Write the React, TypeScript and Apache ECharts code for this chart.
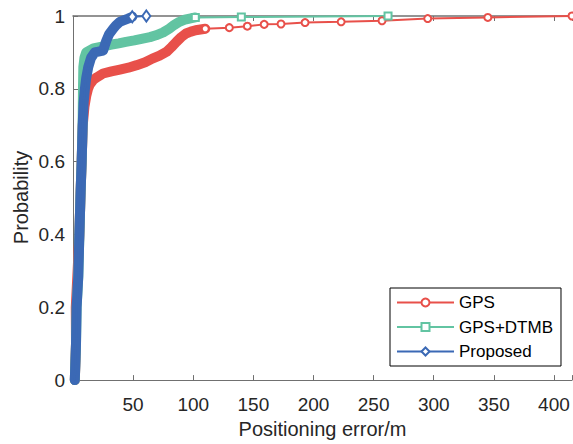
import React, { useEffect, useRef } from "react";
import * as echarts from "echarts";

// Dense part of each CDF (drawn as a thick band of overlapping markers in the source)
const gpsDense: number[][] = [
  [1.5, 0], [2.5, 0.1], [2.3, 0.2], [3.6, 0.285], [5.3, 0.4], [6.3, 0.514], [7.2, 0.6], [8.1, 0.7], [9.5, 0.75], [11, 0.78],
  [12.5, 0.8], [14, 0.812], [17, 0.825], [20, 0.832], [25, 0.842], [32, 0.848], [39, 0.853],
  [46, 0.858], [53, 0.865], [60, 0.873], [66, 0.883], [72, 0.891], [78, 0.902],
  [82, 0.915], [86, 0.929], [90, 0.942], [94, 0.952], [98, 0.957], [102, 0.961],
  [106, 0.963], [110, 0.965],
];
const gpsTail: number[][] = [
  [130, 0.968], [145, 0.972], [159, 0.977], [173, 0.978], [193, 0.982],
  [223, 0.984], [257, 0.987], [295, 0.993], [345, 0.996], [415, 1],
];

const dtmbDense: number[][] = [
  [1.5, 0], [2.5, 0.1], [3, 0.2], [4.4, 0.285], [5.3, 0.4], [6.3, 0.514], [7.2, 0.6], [8, 0.7], [8.3, 0.8], [8.6, 0.86], [9.5, 0.885],
  [11, 0.9], [17, 0.911], [24, 0.916], [31, 0.921], [38, 0.925], [44, 0.929],
  [51, 0.933], [58, 0.938], [64, 0.942], [69, 0.947], [75, 0.955], [80, 0.965],
  [84, 0.975], [88.5, 0.984], [93, 0.99], [97, 0.993], [101.7, 0.996],
];
const dtmbTail: number[][] = [[140, 0.997], [262, 1]];

const proposedDense: number[][] = [
  [1.5, 0], [2.5, 0.1], [3, 0.2], [4.4, 0.285], [5.3, 0.4], [6.3, 0.514],
  [7.2, 0.6], [8, 0.696], [8.8, 0.76], [9.9, 0.8], [11, 0.83], [12.7, 0.86],
  [15, 0.885], [18, 0.9], [21, 0.902], [25, 0.905], [27.8, 0.933], [30, 0.95],
  [33.4, 0.965], [36, 0.975], [38.9, 0.984], [42, 0.988], [45.8, 0.993], [49.3, 0.998],
];
const proposedTail: number[][] = [[61, 1]];

const seriesNames = ["GPS", "GPS+DTMB", "Proposed"];
const xTicks = [50, 100, 150, 200, 250, 300, 350, 400];
const yTicks = [0, 0.2, 0.4, 0.6, 0.8, 1];

const COLORS = ["#E8504A", "#62C4A2", "#3B69B5"];
const SYMBOLS = ["emptyCircle", "emptyRect", "emptyDiamond"];
const SYMBOL_SIZES: any[] = [7, 7, [8, 11]];
const FONT = "'Liberation Sans', Arial, Helvetica, sans-serif";

function buildSeries(name: string, idx: number, dense: number[][], tail: number[][]) {
  const color = COLORS[idx];
  const band = {
    type: "line",
    name: name + "-band",
    data: dense,
    showSymbol: false,
    symbol: "none",
    clip: false,
    silent: true,
    lineStyle: { color, width: 10, cap: "round", join: "round" },
    itemStyle: { color },
    z: 2,
  };
  const mainData = [
    ...dense.slice(0, -1).map((p) => ({ value: p, symbol: "none" })),
    ...[dense[dense.length - 1], ...tail].map((p) => ({ value: p })),
  ];
  const main = {
    type: "line",
    name,
    data: mainData,
    symbol: SYMBOLS[idx],
    symbolSize: SYMBOL_SIZES[idx],
    showAllSymbol: true,
    clip: false,
    lineStyle: { color, width: 2 },
    itemStyle: { color, borderColor: color, borderWidth: 2.5 },
    z: 2,
  };
  return [band, main];
}

export default function App() {
  const ref = useRef<HTMLDivElement>(null);
  useEffect(() => {
    if (!ref.current) return;
    const chart = echarts.init(ref.current, null, { renderer: "svg" });
    const axisColor = "#707070";
    const labelColor = "#262626";
    const xAxisCommon = {
      type: "value",
      min: 0,
      max: 415,
      interval: 50,
      splitLine: { show: false },
    };
    chart.setOption({
      animation: false,
      backgroundColor: "#fff",
      grid: { left: 73, right: 0, top: 16, bottom: 63, containLabel: false },
      legend: {
        data: seriesNames,
        orient: "vertical",
        left: 390,
        top: 288,
        itemWidth: 57,
        itemHeight: 10,
        itemGap: 7.5,
        padding: [6, 8, 6, 6],
        borderColor: "#000",
        borderWidth: 1,
        backgroundColor: "#fff",
        textStyle: { fontFamily: FONT, fontSize: 17, color: "#000", lineHeight: 16 },
        selectedMode: false,
      },
      xAxis: [
        {
          ...xAxisCommon,
          position: "bottom",
          name: "Positioning error/m",
          nameLocation: "middle",
          nameGap: 38,
          nameTextStyle: { fontFamily: FONT, fontSize: 20, color: labelColor },
          axisLine: { show: true, lineStyle: { color: axisColor, width: 1 } },
          axisTick: { show: true, inside: true, length: 5, lineStyle: { color: axisColor } },
          axisLabel: {
            fontFamily: FONT,
            fontSize: 19,
            color: labelColor,
            margin: 15,
            formatter: (v: number) => (xTicks.includes(v) ? String(v) : ""),
          },
        },
        {
          ...xAxisCommon,
          position: "top",
          axisLine: { show: true, lineStyle: { color: axisColor, width: 1.5 } },
          axisTick: { show: true, inside: true, length: 5, lineStyle: { color: axisColor } },
          axisLabel: { show: false },
        },
      ],
      yAxis: {
        type: "value",
        min: 0,
        max: 1,
        interval: 0.2,
        splitLine: { show: false },
        axisLine: { show: true, lineStyle: { color: axisColor, width: 1 } },
        axisTick: { show: true, inside: true, length: 5, lineStyle: { color: axisColor } },
        axisLabel: {
          fontFamily: FONT,
          fontSize: 19,
          color: labelColor,
          margin: 8,
          formatter: (v: number) => {
            const r = Math.round(v * 10) / 10;
            return yTicks.some((t) => Math.abs(t - r) < 1e-9) ? String(r) : "";
          },
        },
      },
      graphic: [
        {
          type: "text",
          x: 21,
          y: 197.5,
          rotation: Math.PI / 2,
          style: {
            text: "Probability",
            fontFamily: FONT,
            fontSize: 20,
            fill: labelColor,
            textAlign: "center",
            textVerticalAlign: "middle",
          },
        },
      ],
      series: [
        ...buildSeries(seriesNames[0], 0, gpsDense, gpsTail),
        ...buildSeries(seriesNames[1], 1, dtmbDense, dtmbTail),
        ...buildSeries(seriesNames[2], 2, proposedDense, proposedTail),
      ],
    });
    return () => chart.dispose();
  }, []);
  return (
    <div
      style={{
        position: "fixed",
        left: 0,
        top: 0,
        width: 573,
        height: 444,
        overflow: "hidden",
        background: "#fff",
      }}
    >
      <div ref={ref} style={{ width: 575, height: 444 }} />
    </div>
  );
}
